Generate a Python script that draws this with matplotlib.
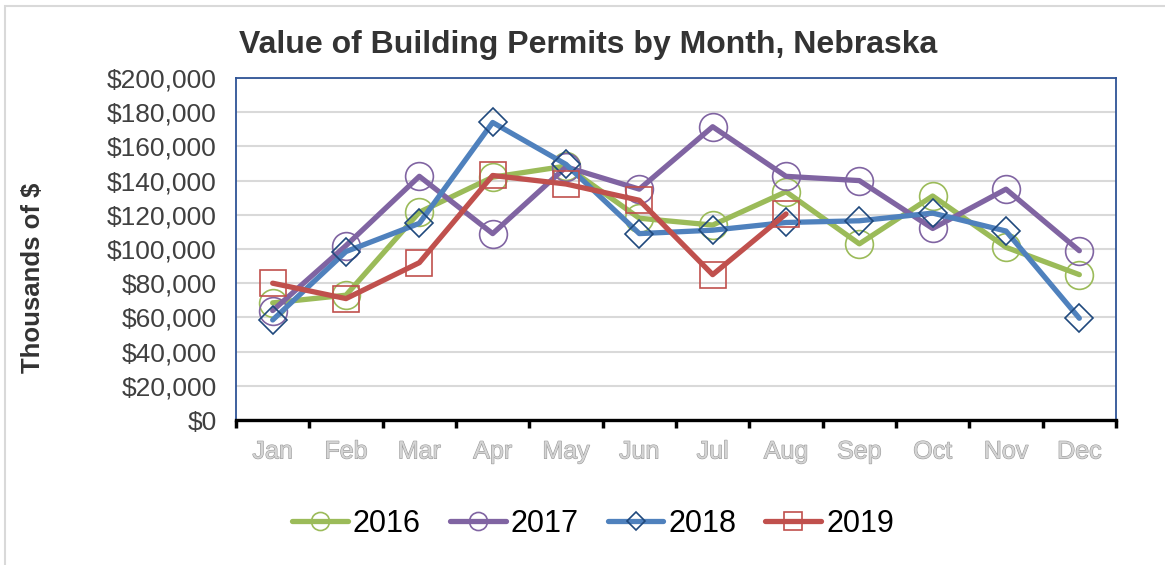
import matplotlib.pyplot as plt
import matplotlib.patheffects as pe
from matplotlib.patches import Rectangle
from matplotlib.ticker import FuncFormatter

plt.rcParams['font.family'] = ['Liberation Sans', 'DejaVu Sans']

months = ['Jan', 'Feb', 'Mar', 'Apr', 'May', 'Jun',
          'Jul', 'Aug', 'Sep', 'Oct', 'Nov', 'Dec']
v2016 = [68500, 73000, 121500, 142000, 148500, 118000,
         114000, 133500, 103000, 131000, 101000, 85000]
v2017 = [64000, 102000, 142500, 109000, 148000, 135000,
         171500, 142500, 140000, 112000, 135000, 99000]
v2018 = [58500, 98500, 115000, 174000, 149500, 109000,
         111000, 115500, 116500, 121000, 110500, 59500]
v2019 = [80000, 71000, 92000, 143000, 138000, 128500,
         85000, 120500]
yticks = list(range(0, 200001, 20000))

fig = plt.figure(figsize=(11.65, 5.65), dpi=100)
fig.patches.append(Rectangle((5 / 1165, -0.1), 1.2, (565 - 6) / 565 + 0.1,
                             transform=fig.transFigure, fill=False,
                             edgecolor='#D9D9D9', linewidth=1.5))

ax = fig.add_axes([236 / 1165, (565 - 420) / 565, 880 / 1165, 342 / 565])

series = [
    ('2016', v2016, '#9BBB59', 'o', '#9BBB59', 20),
    ('2017', v2017, '#8064A2', 'o', '#8064A2', 20),
    ('2018', v2018, '#4F81BD', 'D', '#1F497D', 14.5),
    ('2019', v2019, '#C0504D', 's', '#C0504D', 19),
]
for name, vals, col, mk, edge, ms in series:
    ax.plot(range(len(vals)), vals, color=col, linewidth=3.8,
            solid_capstyle='round', marker=mk, markersize=ms,
            markerfacecolor='none', markeredgecolor=edge,
            markeredgewidth=1.2, label=name, zorder=3)

ax.set_xlim(-0.5, 11.5)
ax.set_ylim(0, 200000)
ax.set_yticks(yticks)
ax.yaxis.set_major_formatter(FuncFormatter(lambda v, p: f'${v:,.0f}'))
ax.tick_params(axis='y', length=0, pad=14, labelsize=19, labelcolor='#404040')
ax.grid(axis='y', color='#D9D9D9', linewidth=1.5, zorder=0)
ax.set_axisbelow(True)

ax.set_xticks([i - 0.5 for i in range(13)])
ax.set_xticklabels([])
ax.tick_params(axis='x', which='major', direction='out', length=6,
               width=2.5, color='black')
ax.set_xticks(range(12), minor=True)
ax.set_xticklabels(months, minor=True)
ax.tick_params(axis='x', which='minor', length=0, pad=14, labelsize=18,
               labelcolor='#D4D4D4')
for t in ax.get_xticklabels(minor=True):
    t.set_path_effects([pe.withStroke(linewidth=0.8, foreground='#999999')])

for s in ['left', 'right', 'top']:
    ax.spines[s].set_color('#2F5496')
    ax.spines[s].set_linewidth(1.3)
ax.spines['bottom'].set_color('black')
ax.spines['bottom'].set_linewidth(2.4)

fig.text(588 / 1165, 1 - 45 / 565, 'Value of Building Permits by Month, Nebraska',
         ha='center', va='center', fontsize=23, fontweight='bold', color='#333333')
fig.text(33 / 1165, 1 - 278 / 565, 'Thousands of $', rotation=90,
         ha='center', va='center', fontsize=18.5, fontweight='bold', color='#333333')

leg = fig.legend(loc='center', bbox_to_anchor=(593 / 1165, 1 - 524 / 565),
                 ncol=4, frameon=False, fontsize=22, markerscale=0.65,
                 handlelength=1.83, columnspacing=0.95, handletextpad=0.16)

fig.savefig('out.png', dpi=100)
